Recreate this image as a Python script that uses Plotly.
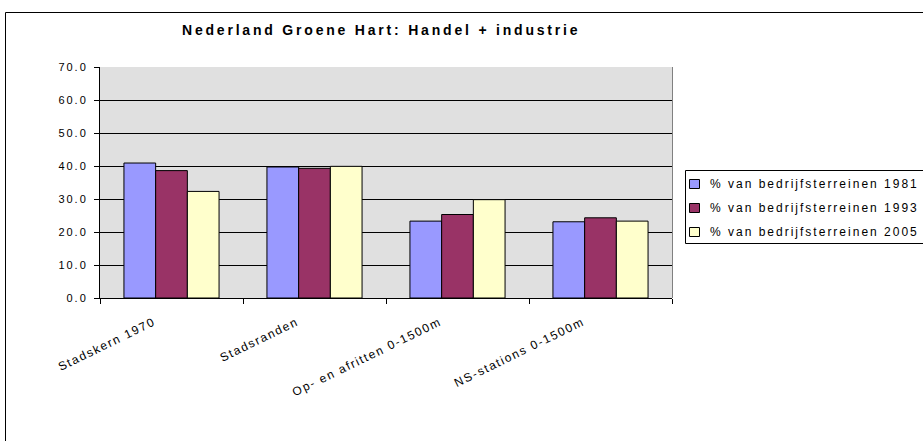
import plotly.graph_objects as go

categories = ["Stadskern 1970", "Stadsranden", "Op- en afritten 0-1500m", "NS-stations 0-1500m"]
series_names = ["% van bedrijfsterreinen 1981", "% van bedrijfsterreinen 1993", "% van bedrijfsterreinen 2005"]
values_1981 = [40.9, 39.7, 23.3, 23.1]
values_1993 = [38.6, 39.3, 25.3, 24.3]
values_2005 = [32.3, 39.9, 29.8, 23.3]
colors = ["#9999FF", "#993366", "#FFFFCC"]
y_ticks = [0, 10, 20, 30, 40, 50, 60, 70]

FONT = "Liberation Sans, Arial, sans-serif"


def spaced(text, px_spacing):
    """Wrap text in a span with extra tracking, like the old spreadsheet rendering."""
    return f'<span style="letter-spacing:{px_spacing}px">{text}</span>'


fig = go.Figure()
for name, vals, col in zip(series_names, [values_1981, values_1993, values_2005], colors):
    fig.add_trace(go.Bar(
        x=categories, y=vals, name=name, showlegend=False,
        marker=dict(color=col, line=dict(color="#000000", width=1)),
    ))

# plot area in pixels: x 100..672, y 67..298
L, R, T, B = 100, 672, 67, 298
W, H = 923, 441
pw, ph = R - L, B - T


def px(x):
    return (x - L) / pw


def py(y):
    return (B - y) / ph


shapes = []
# right edge of plot area
shapes.append(dict(type="line", xref="paper", yref="paper", x0=px(672.5), x1=px(672.5), y0=0, y1=1,
                   line=dict(color="#808080", width=1)))
# chart frame
shapes.append(dict(type="rect", xref="paper", yref="paper",
                   x0=px(5.5), x1=px(940), y0=py(460), y1=py(12.5),
                   line=dict(color="#000000", width=1), fillcolor="rgba(0,0,0,0)"))

# legend box, swatches and labels
shapes.append(dict(type="rect", xref="paper", yref="paper",
                   x0=px(685.5), x1=px(940), y0=py(243.5), y1=py(170.5),
                   line=dict(color="#000000", width=1), fillcolor="#FFFFFF"))
annotations = []
legend_rows = [184, 208, 232]
for name, col, yc in zip(series_names, colors, legend_rows):
    shapes.append(dict(type="rect", xref="paper", yref="paper",
                       x0=px(689.5), x1=px(699.5), y0=py(yc + 4.5), y1=py(yc - 4.5),
                       line=dict(color="#000000", width=1), fillcolor=col))
    annotations.append(dict(text=spaced(name, 2.0), xref="paper", yref="paper",
                            x=px(708), y=py(yc), xanchor="left", yanchor="middle",
                            showarrow=False,
                            font=dict(family=FONT, size=12, color="#000000")))

# category labels sit a little left of the category centre
pad = "&nbsp;" * 4

fig.update_layout(
    width=W, height=H,
    margin=dict(l=L, r=W - R, t=T, b=H - B, pad=0),
    paper_bgcolor="#FFFFFF",
    plot_bgcolor="#E0E0E0",
    barmode="group",
    bargap=0.335,
    bargroupgap=0,
    font=dict(family=FONT, size=11, color="#000000"),
    title=dict(text="<b>" + spaced("Nederland Groene Hart: Handel + industrie", 2.8) + "</b>",
               x=182 / W, xanchor="left", y=1 - 30 / H, yanchor="middle",
               font=dict(family=FONT, size=14, color="#000000")),
    showlegend=False,
    shapes=shapes,
    annotations=annotations,
    xaxis=dict(
        type="category", tickson="boundaries", ticks="outside", ticklen=5,
        tickmode="array", tickvals=categories,
        ticktext=[spaced(c + pad, 1.6) for c in categories],
        tickcolor="#000000", showline=True, linecolor="#000000", linewidth=1,
        showgrid=False, tickangle=-26, ticklabelstandoff=3,
        tickfont=dict(family=FONT, size=12, color="#000000"),
    ),
    yaxis=dict(
        range=[0, 70], tickmode="array", tickvals=y_ticks,
        ticktext=[spaced(f"{v:.1f}", 2) for v in y_ticks],
        ticks="outside", ticklen=5, tickcolor="#000000",
        showline=True, linecolor="#000000", linewidth=1,
        showgrid=True, gridcolor="#000000", gridwidth=1, zeroline=False,
        ticklabelstandoff=4,
        tickfont=dict(family=FONT, size=11, color="#000000"),
    ),
)

fig.write_html("out.html")
